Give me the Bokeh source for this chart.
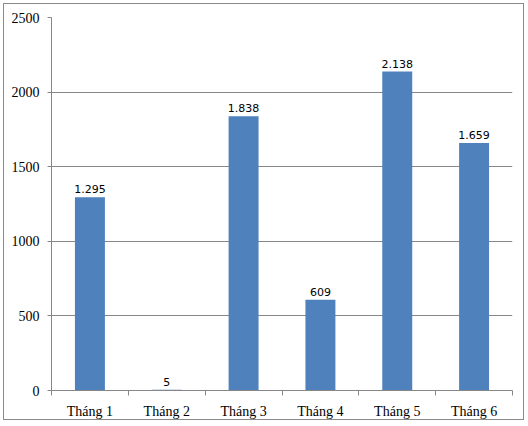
from bokeh.plotting import figure
from bokeh.models import ColumnDataSource, FixedTicker, LabelSet, Range1d
from bokeh.core.properties import value
from bokeh.embed import file_html
from bokeh.resources import INLINE

months = ["Tháng 1", "Tháng 2", "Tháng 3", "Tháng 4", "Tháng 5", "Tháng 6"]
values = [1295, 5, 1838, 609, 2138, 1659]
value_labels = ["1.295", "5", "1.838", "609", "2.138", "1.659"]
y_ticks = [0, 500, 1000, 1500, 2000, 2500]

xpos = list(range(1, len(months) + 1))
src = ColumnDataSource(dict(x=xpos, top=values, lab=value_labels))

GRAY = "#878787"

p = figure(width=521, height=417, output_backend="svg", toolbar_location=None,
           x_range=Range1d(0.5, len(months) + 0.5), y_range=Range1d(0, 2500),
           min_border_left=47, min_border_right=13, min_border_top=13, min_border_bottom=31,
           styles={"border": "1px solid #8a8a8a", "box-sizing": "border-box",
                   "margin-left": "3px", "margin-top": "3px"})
p.outline_line_color = None
p.background_fill_color = "white"
p.border_fill_color = "white"

p.vbar(x="x", top="top", width=0.39, source=src, fill_color="#4F81BD", line_color=None)

p.add_layout(LabelSet(x="x", y="top", text="lab", source=src, y_offset=4,
                      text_align="center", text_baseline="bottom",
                      text_font=value("DejaVu Sans"), text_font_size=value("11px"),
                      text_color="black"))

# x axis: labels at centres, minor ticks at category boundaries
p.xaxis.ticker = FixedTicker(ticks=xpos, minor_ticks=[i + 0.5 for i in range(len(months) + 1)])
p.xaxis.major_label_overrides = {i: m for i, m in zip(xpos, months)}
p.xaxis.major_tick_line_color = None
p.xaxis.minor_tick_line_color = GRAY
p.xaxis.minor_tick_out = 5
p.xaxis.minor_tick_in = 0
p.xaxis.axis_line_color = GRAY
p.xaxis.major_label_text_font = "Liberation Serif"
p.xaxis.major_label_text_font_size = "14px"
p.xaxis.major_label_text_color = "black"
p.xaxis.major_label_standoff = 7

p.yaxis.ticker = FixedTicker(ticks=y_ticks)
p.yaxis.minor_tick_line_color = None
p.yaxis.major_tick_line_color = GRAY
p.yaxis.major_tick_out = 4
p.yaxis.major_tick_in = 0
p.yaxis.axis_line_color = GRAY
p.yaxis.major_label_text_font = "Liberation Serif"
p.yaxis.major_label_text_font_size = "14px"
p.yaxis.major_label_text_color = "black"
p.yaxis.major_label_standoff = 8

p.xgrid.grid_line_color = None
p.ygrid.grid_line_color = GRAY
p.ygrid.grid_line_width = 1

open("out.html", "w").write(file_html(p, INLINE))
